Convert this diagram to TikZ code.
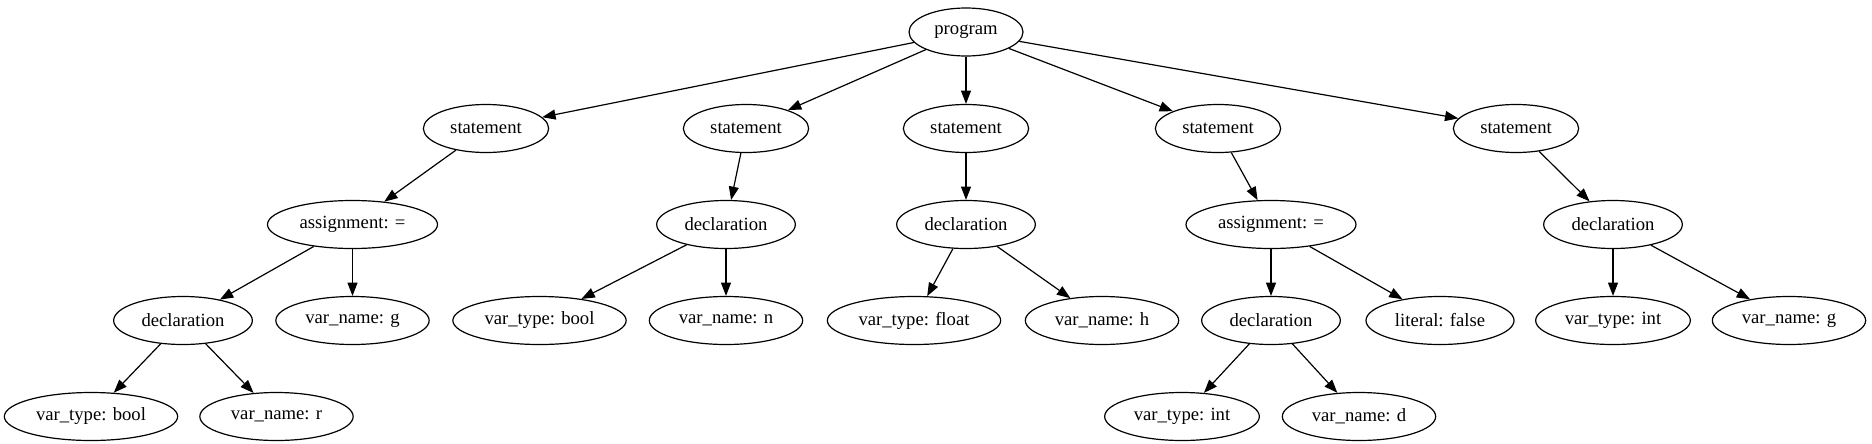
\documentclass[tikz,border=0pt]{standalone}
\usepackage{fontspec}
\setmainfont{Liberation Serif}
\usetikzlibrary{shapes.geometric,arrows.meta}
\begin{document}
\begin{tikzpicture}[x=0.75pt,y=-0.75pt,
  nd/.style={draw,ellipse,line width=0.9pt,inner sep=0pt,minimum height=36pt,font=\fontsize{14}{16}\selectfont},
  wprog/.style={nd,minimum width=85.5pt},
  wstat/.style={nd,minimum width=94pt},
  wasg/.style={nd,minimum width=127.5pt},
  wdecl/.style={nd,minimum width=104pt},
  wvar/.style={nd,minimum width=115pt},
  wtype/.style={nd,minimum width=130pt},
  wint/.style={nd,minimum width=116pt},
  wlit/.style={nd,minimum width=111pt},
  edge/.style={line width=0.9pt,-{Triangle[length=10pt,width=7.5pt]}}]
\useasboundingbox (0,0) rectangle (1872,443);
% row 1
\node[wprog] (prog) at (966,32) {program};
% row 2
\node[wstat] (s1) at (486,128.5) {statement};
\node[wstat] (s2) at (746,128.5) {statement};
\node[wstat] (s3) at (966,128.5) {statement};
\node[wstat] (s4) at (1218,128.5) {statement};
\node[wstat] (s5) at (1516,128.5) {statement};
% row 3
\node[wasg] (a1) at (352.5,224.5) {assignment: =};
\node[wdecl] (d2) at (726,224.5) {declaration};
\node[wdecl] (d3) at (966,224.5) {declaration};
\node[wasg] (a4) at (1271,224.5) {assignment: =};
\node[wdecl] (d5) at (1613,224.5) {declaration};
% row 4
\node[wdecl] (d1) at (183,320.5) {declaration};
\node[wvar] (g1) at (352.5,320.5) {var\_name: g};
\node[wtype] (b2) at (539.5,320.5) {var\_type: bool};
\node[wvar] (n2) at (726,320.5) {var\_name: n};
\node[wtype] (f3) at (914,320.5) {var\_type: float};
\node[wvar] (h3) at (1102,320.5) {var\_name: h};
\node[wdecl] (d4) at (1271,320.5) {declaration};
\node[wlit] (l4) at (1440,320.5) {literal: false};
\node[wint] (i5) at (1613,320.5) {var\_type: int};
\node[wvar] (g5) at (1789,320.5) {var\_name: g};
% row 5
\node[wtype] (b1) at (91,416.5) {var\_type: bool};
\node[wvar] (r1) at (276.5,416.5) {var\_name: r};
\node[wint] (i4) at (1182,416.5) {var\_type: int};
\node[wvar] (dd4) at (1359,416.5) {var\_name: d};
% edges
\draw[edge] (prog) -- (s1);
\draw[edge] (prog) -- (s2);
\draw[edge] (prog) -- (s3);
\draw[edge] (prog) -- (s4);
\draw[edge] (prog) -- (s5);
\draw[edge] (s1) -- (a1);
\draw[edge] (s2) -- (d2);
\draw[edge] (s3) -- (d3);
\draw[edge] (s4) -- (a4);
\draw[edge] (s5) -- (d5);
\draw[edge] (a1) -- (d1);
\draw[edge] (a1) -- (g1);
\draw[edge] (d1) -- (b1);
\draw[edge] (d1) -- (r1);
\draw[edge] (d2) -- (b2);
\draw[edge] (d2) -- (n2);
\draw[edge] (d3) -- (f3);
\draw[edge] (d3) -- (h3);
\draw[edge] (a4) -- (d4);
\draw[edge] (a4) -- (l4);
\draw[edge] (d4) -- (i4);
\draw[edge] (d4) -- (dd4);
\draw[edge] (d5) -- (i5);
\draw[edge] (d5) -- (g5);
\end{tikzpicture}
\end{document}
